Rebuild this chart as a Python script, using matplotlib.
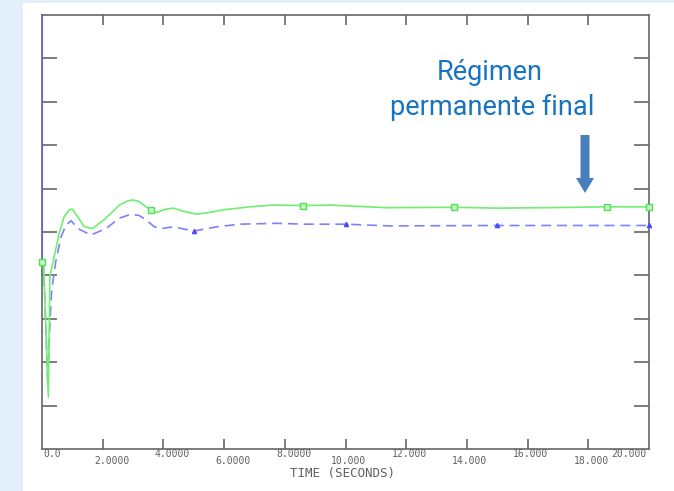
import matplotlib
matplotlib.use("Agg")
import matplotlib.pyplot as plt
import numpy as np
from matplotlib.patches import Rectangle, FancyArrow

# simulated response (time in s, value in grid units)
green_t = [0, 0.05, 0.21, 0.26, 0.4, 0.57, 0.73, 0.9, 0.99, 1.18, 1.39, 1.67,
           2.11, 2.55, 2.8, 2.99, 3.2, 3.43, 3.59, 3.78, 4.05, 4.33, 4.7, 5.1,
           5.5, 5.97, 6.85, 7.62, 8.61, 9.5, 11.36, 13.58, 15.0, 16.6, 18.6, 20.0]
green_v = [4.31, 4.30, 1.19, 3.97, 4.43, 4.98, 5.35, 5.51, 5.53, 5.35, 5.12, 5.08,
           5.32, 5.62, 5.71, 5.74, 5.70, 5.58, 5.51, 5.45, 5.52, 5.55, 5.47, 5.41,
           5.45, 5.51, 5.58, 5.62, 5.61, 5.62, 5.56, 5.57, 5.55, 5.56, 5.58, 5.58]
green_marks = [0, 3.59, 8.61, 13.58, 18.6, 20.0]

blue_t = [0, 0.05, 0.19, 0.26, 0.32, 0.46, 0.63, 0.79, 0.96, 1.18, 1.61, 2.11,
          2.55, 2.93, 3.2, 3.43, 3.7, 3.95, 4.33, 5.0, 5.76, 6.52, 7.73, 8.72,
          10.0, 11.47, 15.0, 20.0]
blue_v = [4.31, 4.30, 1.51, 2.9, 3.66, 4.35, 4.89, 5.16, 5.26, 5.08, 4.93, 5.08,
          5.32, 5.41, 5.38, 5.28, 5.12, 5.08, 5.12, 5.02, 5.12, 5.18, 5.2, 5.18,
          5.18, 5.14, 5.15, 5.15]
blue_marks = [0, 5.0, 10.0, 15.0, 20.0]
blue_start = 10.0

x_ticks = [0, 2, 4, 6, 8, 10, 12, 14, 16, 18, 20]
x_labels = ["0.0", "2.0000", "4.0000", "6.0000", "8.0000", "10.000",
            "12.000", "14.000", "16.000", "18.000", "20.000"]

W, H = 674, 491
fig = plt.figure(figsize=(W / 100, H / 100), dpi=100)
fig.patch.set_facecolor("#e3effb")

# background layer in pixel coords: white panel, note and arrow
bg = fig.add_axes([0, 0, 1, 1], zorder=-1)
bg.set_xlim(0, W)
bg.set_ylim(H, 0)
bg.axis("off")
bg.add_patch(Rectangle((23, 3), W - 23, H - 3, facecolor="white", edgecolor="none"))
bg.text(490, 80, "Régimen", family="Roboto", fontsize=19.5, color="#1874c1",
        ha="center", va="baseline")
bg.text(492, 115, "permanente final", family="Roboto", fontsize=19.5,
        color="#1874c1", ha="center", va="baseline")
bg.add_patch(FancyArrow(585, 135, 0, 58, width=9, head_width=18, head_length=15,
                        length_includes_head=True, color="#4a7dbb", lw=0))

ax = fig.add_axes([42 / W, (H - 449) / H, 607 / W, 434 / H])
ax.set_facecolor("none")
ax.set_xlim(0, 20)
ax.set_ylim(0, 10)
for s in ax.spines.values():
    s.set_color("#666666")
    s.set_linewidth(1.2)

ax.set_xticks(x_ticks[1:-1])
ax.set_yticks(range(1, 10))
ax.tick_params(axis="x", direction="in", top=True, bottom=True, length=7.5,
               width=1.2, color="#666666", labelbottom=False)
ax.tick_params(axis="y", direction="in", left=True, right=True, length=11,
               width=1.2, color="#666666", labelleft=False)

ax.vlines(blue_t[0], blue_v[0], blue_start, color="#5a5aff", lw=1.2, zorder=3)

gi = [green_t.index(t) for t in green_marks]
bi = [blue_t.index(t) for t in blue_marks]
ax.plot(green_t, green_v, color="#70ee70", lw=1.2, marker="s", markevery=gi,
        ms=4, mfc="#c8f8c8", mec="#50e050", mew=1, clip_on=False, zorder=4)
ax.plot(blue_t, blue_v, color="#8080ff", lw=1.2, ls=(0, (6, 3.5)), marker="^",
        markevery=bi, ms=3, mfc="#4a4aff", mec="#4a4aff", clip_on=False, zorder=3)

# staggered tick labels, decimal point aligned on tick
cw = 7 * 100 / 72 * 0.602
for i, (t, lab) in enumerate(zip(x_ticks, x_labels)):
    dy = -5 if i % 2 == 0 else -12.5
    if t == 0:
        dx, ha = 1, "left"
    elif t == 20:
        dx, ha = -2, "right"
    else:
        dx, ha = -(len(lab.split(".")[0]) + 0.5) * cw, "left"
    ax.annotate(lab, xy=(t, 0), xycoords=("data", "axes fraction"),
                xytext=(dx, dy), textcoords="offset pixels", ha=ha, va="center",
                family="DejaVu Sans Mono", fontsize=7, color="#606060")

fig.text(342 / W, 1 - 473 / H, "TIME (SECONDS)", family="DejaVu Sans Mono",
         fontsize=9, color="#606060", ha="center", va="center")

fig.savefig("out.png", dpi=100, facecolor=fig.get_facecolor())
